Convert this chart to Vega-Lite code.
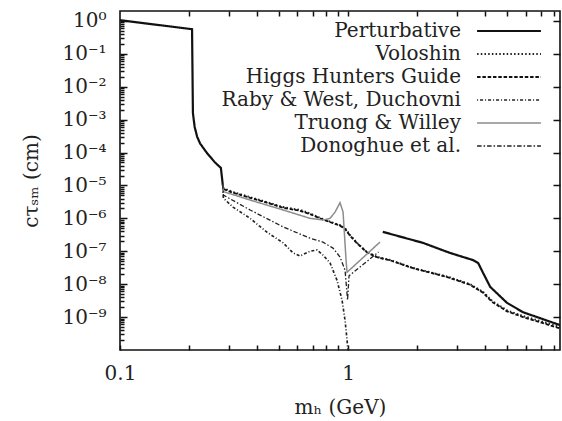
{
  "$schema": "https://vega.github.io/schema/vega-lite/v6.json",
  "autosize": "none",
  "width": 440,
  "height": 339,
  "padding": {"left": 120, "top": 11, "right": 2, "bottom": 71},
  "background": "white",
  "config": {
    "view": {"stroke": "#111", "strokeWidth": 1.6},
    "font": "DejaVu Serif",
    "axis": {"domain": false, "grid": false, "tickColor": "#111", "tickWidth": 1.5, "labelFont": "DejaVu Serif", "labelFontSize": 20, "labelColor": "#222", "titleFont": "DejaVu Serif", "titleFontSize": 20, "titleFontWeight": "normal", "titleColor": "#222"},
    "legend": {"labelFont": "DejaVu Serif", "labelFontSize": 20, "labelColor": "#222", "labelLimit": 400}
  },
  "data": {"values": [
    {"s": "Perturbative", "g": "P1", "i": 1, "x": 0.1, "y": 1.05},
    {"s": "Perturbative", "g": "P1", "i": 2, "x": 0.207, "y": 0.56},
    {"s": "Perturbative", "g": "P1", "i": 3, "x": 0.2088, "y": 0.0016},
    {"s": "Perturbative", "g": "P1", "i": 4, "x": 0.2125, "y": 0.0006},
    {"s": "Perturbative", "g": "P1", "i": 5, "x": 0.218, "y": 0.0003},
    {"s": "Perturbative", "g": "P1", "i": 6, "x": 0.2244, "y": 0.00019},
    {"s": "Perturbative", "g": "P1", "i": 7, "x": 0.241, "y": 0.000095},
    {"s": "Perturbative", "g": "P1", "i": 8, "x": 0.261, "y": 0.00005},
    {"s": "Perturbative", "g": "P1", "i": 9, "x": 0.277, "y": 0.000034},
    {"s": "Perturbative", "g": "P1", "i": 10, "x": 0.282, "y": 0.000011},
    {"s": "Perturbative", "g": "P2", "i": 11, "x": 1.42, "y": 3.9e-7},
    {"s": "Perturbative", "g": "P2", "i": 12, "x": 2.13, "y": 1.8e-7},
    {"s": "Perturbative", "g": "P2", "i": 13, "x": 2.8, "y": 8.9e-8},
    {"s": "Perturbative", "g": "P2", "i": 14, "x": 3.53, "y": 5.4e-8},
    {"s": "Perturbative", "g": "P2", "i": 15, "x": 3.72, "y": 4.4e-8},
    {"s": "Perturbative", "g": "P2", "i": 16, "x": 3.91, "y": 2.2e-8},
    {"s": "Perturbative", "g": "P2", "i": 17, "x": 4.2, "y": 8.3e-9},
    {"s": "Perturbative", "g": "P2", "i": 18, "x": 4.98, "y": 2.7e-9},
    {"s": "Perturbative", "g": "P2", "i": 19, "x": 5.86, "y": 1.4e-9},
    {"s": "Perturbative", "g": "P2", "i": 20, "x": 6.95, "y": 9.3e-10},
    {"s": "Perturbative", "g": "P2", "i": 21, "x": 8.5, "y": 5.7e-10},

    {"s": "Voloshin", "g": "V", "i": 1, "x": 0.282, "y": 0.000011},
    {"s": "Voloshin", "g": "V", "i": 2, "x": 0.284, "y": 8.2e-6},
    {"s": "Voloshin", "g": "V", "i": 3, "x": 0.313, "y": 6.3e-6},
    {"s": "Voloshin", "g": "V", "i": 4, "x": 0.372, "y": 4.4e-6},
    {"s": "Voloshin", "g": "V", "i": 5, "x": 0.441, "y": 3.1e-6},
    {"s": "Voloshin", "g": "V", "i": 6, "x": 0.519, "y": 2.2e-6},
    {"s": "Voloshin", "g": "V", "i": 7, "x": 0.616, "y": 1.8e-6},
    {"s": "Voloshin", "g": "V", "i": 8, "x": 0.681, "y": 1.4e-6},
    {"s": "Voloshin", "g": "V", "i": 9, "x": 0.776, "y": 9.5e-7},
    {"s": "Voloshin", "g": "V", "i": 10, "x": 0.922, "y": 6.2e-7},
    {"s": "Voloshin", "g": "V", "i": 11, "x": 0.97, "y": 5.0e-7},
    {"s": "Voloshin", "g": "V", "i": 12, "x": 1.02, "y": 3.1e-7},
    {"s": "Voloshin", "g": "V", "i": 13, "x": 1.095, "y": 1.8e-7},
    {"s": "Voloshin", "g": "V", "i": 14, "x": 1.21, "y": 9.5e-8},
    {"s": "Voloshin", "g": "V", "i": 15, "x": 1.34, "y": 6.7e-8},
    {"s": "Voloshin", "g": "V", "i": 16, "x": 1.53, "y": 5.4e-8},
    {"s": "Voloshin", "g": "V", "i": 17, "x": 1.93, "y": 3.1e-8},
    {"s": "Voloshin", "g": "V", "i": 18, "x": 2.72, "y": 1.7e-8},
    {"s": "Voloshin", "g": "V", "i": 19, "x": 3.43, "y": 1.0e-8},
    {"s": "Voloshin", "g": "V", "i": 20, "x": 3.91, "y": 5.8e-9},
    {"s": "Voloshin", "g": "V", "i": 21, "x": 4.28, "y": 3.1e-9},
    {"s": "Voloshin", "g": "V", "i": 22, "x": 4.98, "y": 1.6e-9},
    {"s": "Voloshin", "g": "V", "i": 23, "x": 5.86, "y": 1.07e-9},
    {"s": "Voloshin", "g": "V", "i": 24, "x": 6.95, "y": 7.6e-10},
    {"s": "Voloshin", "g": "V", "i": 25, "x": 8.5, "y": 5.0e-10},

    {"s": "Higgs Hunters Guide", "g": "H", "i": 1, "x": 0.282, "y": 0.000011},
    {"s": "Higgs Hunters Guide", "g": "H", "i": 2, "x": 0.284, "y": 7.8e-6},
    {"s": "Higgs Hunters Guide", "g": "H", "i": 3, "x": 0.313, "y": 6.0e-6},
    {"s": "Higgs Hunters Guide", "g": "H", "i": 4, "x": 0.372, "y": 4.2e-6},
    {"s": "Higgs Hunters Guide", "g": "H", "i": 5, "x": 0.441, "y": 3.0e-6},
    {"s": "Higgs Hunters Guide", "g": "H", "i": 6, "x": 0.519, "y": 2.1e-6},
    {"s": "Higgs Hunters Guide", "g": "H", "i": 7, "x": 0.616, "y": 1.7e-6},
    {"s": "Higgs Hunters Guide", "g": "H", "i": 8, "x": 0.681, "y": 1.35e-6},
    {"s": "Higgs Hunters Guide", "g": "H", "i": 9, "x": 0.776, "y": 9.2e-7},
    {"s": "Higgs Hunters Guide", "g": "H", "i": 10, "x": 0.922, "y": 6.0e-7},
    {"s": "Higgs Hunters Guide", "g": "H", "i": 11, "x": 0.97, "y": 4.8e-7},
    {"s": "Higgs Hunters Guide", "g": "H", "i": 12, "x": 1.02, "y": 3.0e-7},
    {"s": "Higgs Hunters Guide", "g": "H", "i": 13, "x": 1.095, "y": 1.75e-7},
    {"s": "Higgs Hunters Guide", "g": "H", "i": 14, "x": 1.21, "y": 9.3e-8},
    {"s": "Higgs Hunters Guide", "g": "H", "i": 15, "x": 1.34, "y": 6.6e-8},
    {"s": "Higgs Hunters Guide", "g": "H", "i": 16, "x": 1.53, "y": 5.3e-8},
    {"s": "Higgs Hunters Guide", "g": "H", "i": 17, "x": 1.93, "y": 3.05e-8},
    {"s": "Higgs Hunters Guide", "g": "H", "i": 18, "x": 2.72, "y": 1.65e-8},
    {"s": "Higgs Hunters Guide", "g": "H", "i": 19, "x": 3.43, "y": 9.6e-9},
    {"s": "Higgs Hunters Guide", "g": "H", "i": 20, "x": 3.91, "y": 5.5e-9},
    {"s": "Higgs Hunters Guide", "g": "H", "i": 21, "x": 4.28, "y": 2.9e-9},
    {"s": "Higgs Hunters Guide", "g": "H", "i": 22, "x": 4.98, "y": 1.5e-9},
    {"s": "Higgs Hunters Guide", "g": "H", "i": 23, "x": 5.86, "y": 1.0e-9},
    {"s": "Higgs Hunters Guide", "g": "H", "i": 24, "x": 6.95, "y": 7.0e-10},
    {"s": "Higgs Hunters Guide", "g": "H", "i": 25, "x": 8.5, "y": 4.5e-10},

    {"s": "Raby & West, Duchovni", "g": "R", "i": 1, "x": 0.282, "y": 0.000011},
    {"s": "Raby & West, Duchovni", "g": "R", "i": 2, "x": 0.284, "y": 4.1e-6},
    {"s": "Raby & West, Duchovni", "g": "R", "i": 3, "x": 0.313, "y": 2.2e-6},
    {"s": "Raby & West, Duchovni", "g": "R", "i": 4, "x": 0.372, "y": 1.0e-6},
    {"s": "Raby & West, Duchovni", "g": "R", "i": 5, "x": 0.441, "y": 3.8e-7},
    {"s": "Raby & West, Duchovni", "g": "R", "i": 6, "x": 0.519, "y": 1.8e-7},
    {"s": "Raby & West, Duchovni", "g": "R", "i": 7, "x": 0.574, "y": 8.9e-8},
    {"s": "Raby & West, Duchovni", "g": "R", "i": 8, "x": 0.616, "y": 7.2e-8},
    {"s": "Raby & West, Duchovni", "g": "R", "i": 9, "x": 0.681, "y": 1.0e-7},
    {"s": "Raby & West, Duchovni", "g": "R", "i": 10, "x": 0.731, "y": 1.1e-7},
    {"s": "Raby & West, Duchovni", "g": "R", "i": 11, "x": 0.776, "y": 7.7e-8},
    {"s": "Raby & West, Duchovni", "g": "R", "i": 12, "x": 0.834, "y": 4.4e-8},
    {"s": "Raby & West, Duchovni", "g": "R", "i": 13, "x": 0.895, "y": 1.3e-8},
    {"s": "Raby & West, Duchovni", "g": "R", "i": 14, "x": 0.941, "y": 3.3e-9},
    {"s": "Raby & West, Duchovni", "g": "R", "i": 15, "x": 0.97, "y": 8.1e-10},
    {"s": "Raby & West, Duchovni", "g": "R", "i": 16, "x": 0.99, "y": 2.0e-10},
    {"s": "Raby & West, Duchovni", "g": "R", "i": 17, "x": 1.0, "y": 8e-11},

    {"s": "Truong & Willey", "g": "T", "i": 1, "x": 0.282, "y": 0.000011},
    {"s": "Truong & Willey", "g": "T", "i": 2, "x": 0.284, "y": 6.5e-6},
    {"s": "Truong & Willey", "g": "T", "i": 3, "x": 0.372, "y": 3.6e-6},
    {"s": "Truong & Willey", "g": "T", "i": 4, "x": 0.519, "y": 1.8e-6},
    {"s": "Truong & Willey", "g": "T", "i": 5, "x": 0.681, "y": 1.0e-6},
    {"s": "Truong & Willey", "g": "T", "i": 6, "x": 0.776, "y": 8.9e-7},
    {"s": "Truong & Willey", "g": "T", "i": 7, "x": 0.834, "y": 1.0e-6},
    {"s": "Truong & Willey", "g": "T", "i": 8, "x": 0.877, "y": 1.55e-6},
    {"s": "Truong & Willey", "g": "T", "i": 9, "x": 0.922, "y": 3.0e-6},
    {"s": "Truong & Willey", "g": "T", "i": 10, "x": 0.951, "y": 1.55e-6},
    {"s": "Truong & Willey", "g": "T", "i": 11, "x": 0.98, "y": 5.4e-8},
    {"s": "Truong & Willey", "g": "T", "i": 12, "x": 0.99, "y": 2.3e-8},
    {"s": "Truong & Willey", "g": "T", "i": 13, "x": 1.38, "y": 1.9e-7},

    {"s": "Donoghue et al.", "g": "D", "i": 1, "x": 0.282, "y": 0.000011},
    {"s": "Donoghue et al.", "g": "D", "i": 2, "x": 0.284, "y": 5.1e-6},
    {"s": "Donoghue et al.", "g": "D", "i": 3, "x": 0.372, "y": 1.8e-6},
    {"s": "Donoghue et al.", "g": "D", "i": 4, "x": 0.519, "y": 5.5e-7},
    {"s": "Donoghue et al.", "g": "D", "i": 5, "x": 0.681, "y": 2.5e-7},
    {"s": "Donoghue et al.", "g": "D", "i": 6, "x": 0.776, "y": 1.9e-7},
    {"s": "Donoghue et al.", "g": "D", "i": 7, "x": 0.859, "y": 1.25e-7},
    {"s": "Donoghue et al.", "g": "D", "i": 8, "x": 0.922, "y": 6.7e-8},
    {"s": "Donoghue et al.", "g": "D", "i": 9, "x": 0.97, "y": 2.7e-8},
    {"s": "Donoghue et al.", "g": "D", "i": 10, "x": 0.995, "y": 3.3e-9},
    {"s": "Donoghue et al.", "g": "D", "i": 11, "x": 1.01, "y": 1.8e-8},
    {"s": "Donoghue et al.", "g": "D", "i": 12, "x": 1.36, "y": 9.5e-8}
  ]},
  "resolve": {"axis": {"x": "independent", "y": "independent"}},
  "layer": [
    {
      "mark": {"type": "line", "clip": true, "strokeJoin": "miter"},
      "encoding": {
        "x": {"field": "x", "type": "quantitative",
          "scale": {"type": "log", "domain": [0.1, 8.5], "nice": false},
          "axis": {"orient": "bottom", "title": "mₕ (GeV)", "titlePadding": 14,
            "values": [0.1, 0.2, 0.3, 0.4, 0.5, 0.6, 0.7, 0.8, 0.9, 1, 2, 3, 4, 5, 6, 7, 8],
            "tickSize": -5, "labelPadding": 18, "labelFlush": false, "labelOverlap": false,
            "labelExpr": "datum.value == 0.1 ? '0.1' : (datum.value == 1 ? '1' : '')"}},
        "y": {"field": "y", "type": "quantitative",
          "scale": {"type": "log", "domain": [1e-10, 2], "nice": false},
          "axis": {"orient": "left", "title": "cτₛₘ (cm)", "titlePadding": 20,
            "values": [1e-9, 1e-8, 1e-7, 1e-6, 1e-5, 1e-4, 1e-3, 1e-2, 1e-1, 1],
            "tickSize": -7, "labelPadding": 21, "labelOverlap": false, "labelFlush": false,
            "labelExpr": "'10' + replace(replace(replace(replace(replace(replace(replace(replace(replace(replace(replace('' + round(log(datum.value)/LN10),'-','⁻'),'0','⁰'),'1','¹'),'2','²'),'3','³'),'4','⁴'),'5','⁵'),'6','⁶'),'7','⁷'),'8','⁸'),'9','⁹')"}},
        "color": {"field": "s", "type": "nominal",
          "scale": {"domain": ["Perturbative", "Voloshin", "Higgs Hunters Guide", "Raby & West, Duchovni", "Truong & Willey", "Donoghue et al."],
                    "range": ["#111111", "#222222", "#111111", "#222222", "#8c8c8c", "#222222"]},
          "legend": {"title": null, "orient": "none", "legendX": 379, "legendY": 10, "symbolType": "M-5,0H5", "symbolSize": 163, "symbolStrokeWidth": 1.5, "labelAlign": "right", "labelOffset": -58, "rowPadding": 3, "padding": 0}},
        "strokeDash": {"field": "s", "type": "nominal",
          "scale": {"domain": ["Perturbative", "Voloshin", "Higgs Hunters Guide", "Raby & West, Duchovni", "Truong & Willey", "Donoghue et al."],
                    "range": [[1, 0], [1.5, 2.2], [3.5, 1.8], [1, 2, 3, 2], [1, 0], [4.5, 2, 1.5, 2]]},
          "legend": {"title": null}},
        "strokeWidth": {"field": "s", "type": "nominal",
          "scale": {"domain": ["Perturbative", "Voloshin", "Higgs Hunters Guide", "Raby & West, Duchovni", "Truong & Willey", "Donoghue et al."],
                    "range": [2.2, 1.3, 1.5, 1.2, 1.3, 1.5]},
          "legend": {"title": null}},
        "detail": {"field": "g"},
        "order": {"field": "i", "type": "quantitative"}
      }
    },
    {
      "mark": {"type": "line", "opacity": 0},
      "encoding": {
        "x": {"field": "x", "type": "quantitative",
          "scale": {"type": "log", "domain": [0.1, 8.5], "nice": false},
          "axis": {"orient": "top", "title": null, "labels": false,
            "values": [0.2, 0.3, 0.4, 0.5, 0.6, 0.7, 0.8, 0.9, 1, 2, 3, 4, 5, 6, 7, 8], "tickSize": -5}},
        "y": {"field": "y", "type": "quantitative",
          "scale": {"type": "log", "domain": [1e-10, 2], "nice": false},
          "axis": {"orient": "right", "title": null, "labels": false,
            "values": [1e-9, 1e-8, 1e-7, 1e-6, 1e-5, 1e-4, 1e-3, 1e-2, 1e-1, 1], "tickSize": -7}},
        "detail": {"field": "g"}
      }
    },
    {
      "mark": {"type": "line", "opacity": 0},
      "encoding": {
        "x": {"field": "x", "type": "quantitative",
          "scale": {"type": "log", "domain": [0.1, 8.5], "nice": false}, "axis": null},
        "y": {"field": "y", "type": "quantitative",
          "scale": {"type": "log", "domain": [1e-10, 2], "nice": false},
          "axis": {"orient": "left", "title": null, "labels": false, "tickSize": -4, "offset": 0,
            "values": [2e-10, 3e-10, 4e-10, 5e-10, 6e-10, 7e-10, 8e-10, 9e-10, 2e-9, 3e-9, 4e-9, 5e-9, 6e-9, 7e-9, 8e-9, 9e-9, 2e-8, 3e-8, 4e-8, 5e-8, 6e-8, 7e-8, 8e-8, 9e-8, 2e-7, 3e-7, 4e-7, 5e-7, 6e-7, 7e-7, 8e-7, 9e-7, 2e-6, 3e-6, 4e-6, 5e-6, 6e-6, 7e-6, 8e-6, 9e-6, 2e-5, 3e-5, 4e-5, 5e-5, 6e-5, 7e-5, 8e-5, 9e-5, 2e-4, 3e-4, 4e-4, 5e-4, 6e-4, 7e-4, 8e-4, 9e-4, 2e-3, 3e-3, 4e-3, 5e-3, 6e-3, 7e-3, 8e-3, 9e-3, 0.02, 0.03, 0.04, 0.05, 0.06, 0.07, 0.08, 0.09, 0.2, 0.3, 0.4, 0.5, 0.6, 0.7, 0.8, 0.9]}},
        "detail": {"field": "g"}
      }
    }
  ]
}
